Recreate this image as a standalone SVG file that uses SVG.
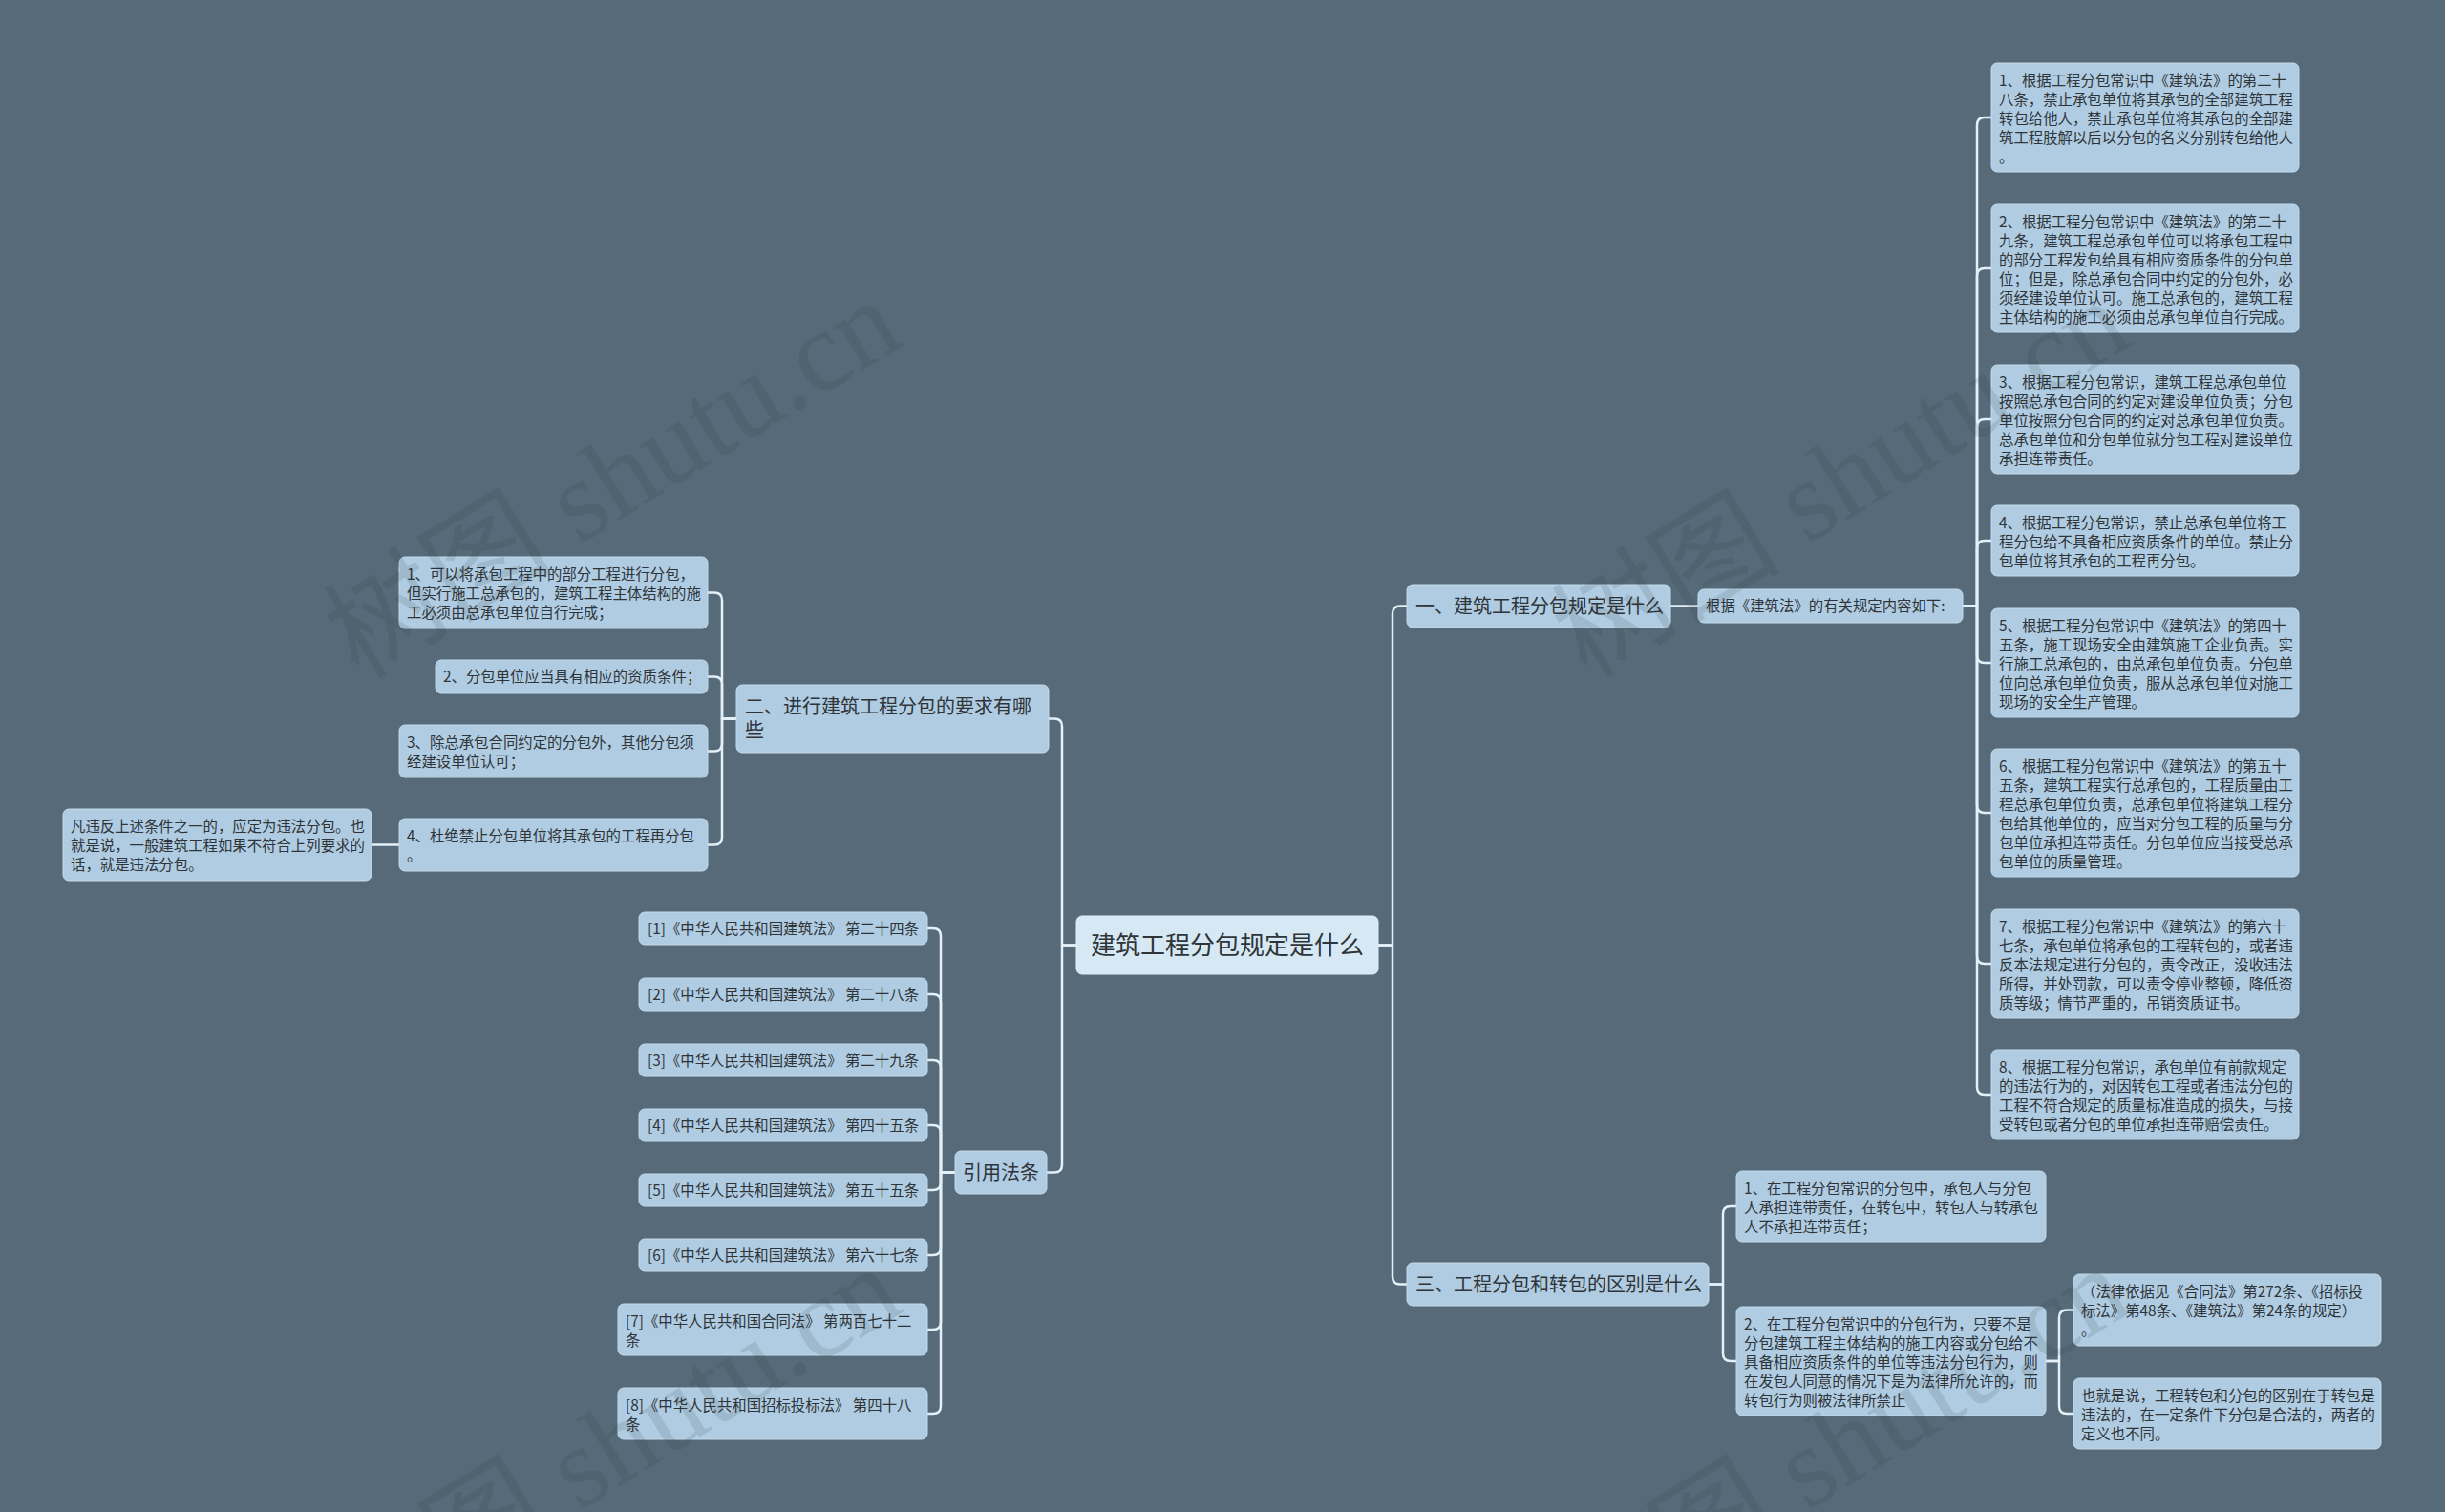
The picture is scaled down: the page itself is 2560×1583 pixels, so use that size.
<svg xmlns="http://www.w3.org/2000/svg" width="2560" height="1583" viewBox="0 0 2560 1583">
<defs>
<style>
.bg{fill:#566a79}
.n{fill:#afcce2;stroke:#c4dbeb;stroke-width:1}
.c{fill:#d5e8f4;stroke:#e2f0f8;stroke-width:1}
.t{font-family:"Noto Sans CJK SC","Noto Sans",sans-serif;fill:#2f3438}
.s15{font-size:15.4px}
.s20{font-size:20px}
.s26{font-size:26px}
.ln{fill:none;stroke:#e3f0f7;stroke-width:2.5;stroke-linecap:round;stroke-linejoin:round}
.wm{font-family:"Liberation Serif","Noto Sans CJK SC",serif;font-size:120px;fill:#2a3238;opacity:0.12}
</style>
</defs>
<rect class="bg" x="0" y="0" width="2560" height="1583"/>

<g id="connectors">
<path class="ln" d="M1443,989.5 H1458 V642.5 Q1458,634.5 1466,634.5 H1473"/>
<path class="ln" d="M1443,989.5 H1458 V1336.5 Q1458,1344.5 1466,1344.5 H1473"/>
<path class="ln" d="M1749,634.5 H1778"/>
<path class="ln" d="M2055,634.5 H2070 V131 Q2070,123 2078,123 H2085"/>
<path class="ln" d="M2055,634.5 H2070 V289 Q2070,281 2078,281 H2085"/>
<path class="ln" d="M2055,634.5 H2070 V447 Q2070,439 2078,439 H2085"/>
<path class="ln" d="M2055,634.5 H2070 V574 Q2070,566 2078,566 H2085"/>
<path class="ln" d="M2055,634.5 H2070 V686 Q2070,694 2078,694 H2085"/>
<path class="ln" d="M2055,634.5 H2070 V843 Q2070,851 2078,851 H2085"/>
<path class="ln" d="M2055,634.5 H2070 V1001 Q2070,1009 2078,1009 H2085"/>
<path class="ln" d="M2055,634.5 H2070 V1138 Q2070,1146 2078,1146 H2085"/>
<path class="ln" d="M1789,1344.5 H1804 V1271 Q1804,1263 1812,1263 H1818"/>
<path class="ln" d="M1789,1344.5 H1804 V1417 Q1804,1425 1812,1425 H1818"/>
<path class="ln" d="M2142,1425 H2156 V1379.5 Q2156,1371.5 2164,1371.5 H2171"/>
<path class="ln" d="M2142,1425 H2156 V1472 Q2156,1480 2164,1480 H2171"/>
<path class="ln" d="M1127,989.5 H1112 V760.5 Q1112,752.5 1104,752.5 H1098"/>
<path class="ln" d="M1127,989.5 H1112 V1219.5 Q1112,1227.5 1104,1227.5 H1096"/>
<path class="ln" d="M771,752.5 H756 V628.5 Q756,620.5 748,620.5 H741"/>
<path class="ln" d="M771,752.5 H756 V716.5 Q756,708.5 748,708.5 H741"/>
<path class="ln" d="M771,752.5 H756 V778.5 Q756,786.5 748,786.5 H741"/>
<path class="ln" d="M771,752.5 H756 V876.5 Q756,884.5 748,884.5 H741"/>
<path class="ln" d="M418,884.5 H389"/>
<path class="ln" d="M1000,1227.5 H985 V980 Q985,972 977,972 H971"/>
<path class="ln" d="M1000,1227.5 H985 V1049 Q985,1041 977,1041 H971"/>
<path class="ln" d="M1000,1227.5 H985 V1118 Q985,1110 977,1110 H971"/>
<path class="ln" d="M1000,1227.5 H985 V1186 Q985,1178 977,1178 H971"/>
<path class="ln" d="M1000,1227.5 H985 V1238 Q985,1246 977,1246 H971"/>
<path class="ln" d="M1000,1227.5 H985 V1306 Q985,1314 977,1314 H971"/>
<path class="ln" d="M1000,1227.5 H985 V1384 Q985,1392 977,1392 H971"/>
<path class="ln" d="M1000,1227.5 H985 V1472 Q985,1480 977,1480 H971"/>
</g>

<g id="center">
<rect class="c" x="1127" y="959" width="316" height="61" rx="6"/>
<text class="t s26" x="1285" y="999" text-anchor="middle">建筑工程分包规定是什么</text>
</g>

<g id="b1">
<rect class="n" x="1473" y="612" width="276" height="45" rx="6"/>
<text class="t s20" x="1482" y="642">一、建筑工程分包规定是什么</text>
</g>
<g id="b1-sub">
<rect class="n" x="1778" y="617" width="277" height="35" rx="6"/>
<text class="t s15" x="1786" y="640">根据《建筑法》的有关规定内容如下:</text>
</g>

<g id="r1">
<rect class="n" x="2085" y="66" width="322" height="114" rx="6"/>
<text class="t s15" x="2093" y="90"><tspan x="2093">1、根据工程分包常识中《建筑法》的第二十</tspan><tspan x="2093" dy="20">八条，禁止承包单位将其承包的全部建筑工程</tspan><tspan x="2093" dy="20">转包给他人，禁止承包单位将其承包的全部建</tspan><tspan x="2093" dy="20">筑工程肢解以后以分包的名义分别转包给他人</tspan><tspan x="2093" dy="20">。</tspan></text>
</g>
<g id="r2">
<rect class="n" x="2085" y="214" width="322" height="134" rx="6"/>
<text class="t s15" x="2093" y="238"><tspan x="2093">2、根据工程分包常识中《建筑法》的第二十</tspan><tspan x="2093" dy="20">九条，建筑工程总承包单位可以将承包工程中</tspan><tspan x="2093" dy="20">的部分工程发包给具有相应资质条件的分包单</tspan><tspan x="2093" dy="20">位；但是，除总承包合同中约定的分包外，必</tspan><tspan x="2093" dy="20">须经建设单位认可。施工总承包的，建筑工程</tspan><tspan x="2093" dy="20">主体结构的施工必须由总承包单位自行完成。</tspan></text>
</g>
<g id="r3">
<rect class="n" x="2085" y="382" width="322" height="114" rx="6"/>
<text class="t s15" x="2093" y="406"><tspan x="2093">3、根据工程分包常识，建筑工程总承包单位</tspan><tspan x="2093" dy="20">按照总承包合同的约定对建设单位负责；分包</tspan><tspan x="2093" dy="20">单位按照分包合同的约定对总承包单位负责。</tspan><tspan x="2093" dy="20">总承包单位和分包单位就分包工程对建设单位</tspan><tspan x="2093" dy="20">承担连带责任。</tspan></text>
</g>
<g id="r4">
<rect class="n" x="2085" y="529" width="322" height="74" rx="6"/>
<text class="t s15" x="2093" y="553"><tspan x="2093">4、根据工程分包常识，禁止总承包单位将工</tspan><tspan x="2093" dy="20">程分包给不具备相应资质条件的单位。禁止分</tspan><tspan x="2093" dy="20">包单位将其承包的工程再分包。</tspan></text>
</g>
<g id="r5">
<rect class="n" x="2085" y="637" width="322" height="114" rx="6"/>
<text class="t s15" x="2093" y="661"><tspan x="2093">5、根据工程分包常识中《建筑法》的第四十</tspan><tspan x="2093" dy="20">五条，施工现场安全由建筑施工企业负责。实</tspan><tspan x="2093" dy="20">行施工总承包的，由总承包单位负责。分包单</tspan><tspan x="2093" dy="20">位向总承包单位负责，服从总承包单位对施工</tspan><tspan x="2093" dy="20">现场的安全生产管理。</tspan></text>
</g>
<g id="r6">
<rect class="n" x="2085" y="784" width="322" height="134" rx="6"/>
<text class="t s15" x="2093" y="808"><tspan x="2093">6、根据工程分包常识中《建筑法》的第五十</tspan><tspan x="2093" dy="20">五条，建筑工程实行总承包的，工程质量由工</tspan><tspan x="2093" dy="20">程总承包单位负责，总承包单位将建筑工程分</tspan><tspan x="2093" dy="20">包给其他单位的，应当对分包工程的质量与分</tspan><tspan x="2093" dy="20">包单位承担连带责任。分包单位应当接受总承</tspan><tspan x="2093" dy="20">包单位的质量管理。</tspan></text>
</g>
<g id="r7">
<rect class="n" x="2085" y="952" width="322" height="114" rx="6"/>
<text class="t s15" x="2093" y="976"><tspan x="2093">7、根据工程分包常识中《建筑法》的第六十</tspan><tspan x="2093" dy="20">七条，承包单位将承包的工程转包的，或者违</tspan><tspan x="2093" dy="20">反本法规定进行分包的，责令改正，没收违法</tspan><tspan x="2093" dy="20">所得，并处罚款，可以责令停业整顿，降低资</tspan><tspan x="2093" dy="20">质等级；情节严重的，吊销资质证书。</tspan></text>
</g>
<g id="r8">
<rect class="n" x="2085" y="1099" width="322" height="94" rx="6"/>
<text class="t s15" x="2093" y="1123"><tspan x="2093">8、根据工程分包常识，承包单位有前款规定</tspan><tspan x="2093" dy="20">的违法行为的，对因转包工程或者违法分包的</tspan><tspan x="2093" dy="20">工程不符合规定的质量标准造成的损失，与接</tspan><tspan x="2093" dy="20">受转包或者分包的单位承担连带赔偿责任。</tspan></text>
</g>

<g id="b3">
<rect class="n" x="1473" y="1322" width="316" height="45" rx="6"/>
<text class="t s20" x="1482" y="1352">三、工程分包和转包的区别是什么</text>
</g>
<g id="b3-c1">
<rect class="n" x="1818" y="1226" width="324" height="74" rx="6"/>
<text class="t s15" x="1826" y="1250"><tspan x="1826">1、在工程分包常识的分包中，承包人与分包</tspan><tspan x="1826" dy="20">人承担连带责任，在转包中，转包人与转承包</tspan><tspan x="1826" dy="20">人不承担连带责任；</tspan></text>
</g>
<g id="b3-c2">
<rect class="n" x="1818" y="1368" width="324" height="114" rx="6"/>
<text class="t s15" x="1826" y="1392"><tspan x="1826">2、在工程分包常识中的分包行为，只要不是</tspan><tspan x="1826" dy="20">分包建筑工程主体结构的施工内容或分包给不</tspan><tspan x="1826" dy="20">具备相应资质条件的单位等违法分包行为，则</tspan><tspan x="1826" dy="20">在发包人同意的情况下是为法律所允许的，而</tspan><tspan x="1826" dy="20">转包行为则被法律所禁止</tspan></text>
</g>
<g id="b3-g1">
<rect class="n" x="2171" y="1334" width="322" height="75" rx="6"/>
<text class="t s15" x="2179" y="1358"><tspan x="2179">（法律依据见《合同法》第272条、《招标投</tspan><tspan x="2179" dy="20">标法》第48条、《建筑法》第24条的规定）</tspan><tspan x="2179" dy="20">。</tspan></text>
</g>
<g id="b3-g2">
<rect class="n" x="2171" y="1443" width="322" height="74" rx="6"/>
<text class="t s15" x="2179" y="1467"><tspan x="2179">也就是说，工程转包和分包的区别在于转包是</tspan><tspan x="2179" dy="20">违法的，在一定条件下分包是合法的，两者的</tspan><tspan x="2179" dy="20">定义也不同。</tspan></text>
</g>

<g id="b2">
<rect class="n" x="771" y="717" width="327" height="71" rx="6"/>
<text class="t s20" x="780" y="747"><tspan x="780">二、进行建筑工程分包的要求有哪</tspan><tspan x="780" dy="25">些</tspan></text>
</g>
<g id="l1">
<rect class="n" x="418" y="583" width="323" height="75" rx="6"/>
<text class="t s15" x="426" y="607"><tspan x="426">1、可以将承包工程中的部分工程进行分包，</tspan><tspan x="426" dy="20">但实行施工总承包的，建筑工程主体结构的施</tspan><tspan x="426" dy="20">工必须由总承包单位自行完成；</tspan></text>
</g>
<g id="l2">
<rect class="n" x="456" y="691" width="285" height="35" rx="6"/>
<text class="t s15" x="464" y="714">2、分包单位应当具有相应的资质条件；</text>
</g>
<g id="l3">
<rect class="n" x="418" y="759" width="323" height="55" rx="6"/>
<text class="t s15" x="426" y="783"><tspan x="426">3、除总承包合同约定的分包外，其他分包须</tspan><tspan x="426" dy="20">经建设单位认可；</tspan></text>
</g>
<g id="l4">
<rect class="n" x="418" y="857" width="323" height="55" rx="6"/>
<text class="t s15" x="426" y="881"><tspan x="426">4、杜绝禁止分包单位将其承包的工程再分包</tspan><tspan x="426" dy="20">。</tspan></text>
</g>
<g id="l4-c">
<rect class="n" x="66" y="847" width="323" height="75" rx="6"/>
<text class="t s15" x="74" y="871"><tspan x="74">凡违反上述条件之一的，应定为违法分包。也</tspan><tspan x="74" dy="20">就是说，一般建筑工程如果不符合上列要求的</tspan><tspan x="74" dy="20">话，就是违法分包。</tspan></text>
</g>

<g id="b4">
<rect class="n" x="1000" y="1205" width="96" height="45" rx="6"/>
<text class="t s20" x="1008" y="1235">引用法条</text>
</g>
<g id="ref1"><rect class="n" x="669" y="955" width="302" height="34" rx="6"/><text class="t s15" x="678" y="978">[1]《中华人民共和国建筑法》 第二十四条</text></g>
<g id="ref2"><rect class="n" x="669" y="1024" width="302" height="34" rx="6"/><text class="t s15" x="678" y="1047">[2]《中华人民共和国建筑法》 第二十八条</text></g>
<g id="ref3"><rect class="n" x="669" y="1093" width="302" height="34" rx="6"/><text class="t s15" x="678" y="1116">[3]《中华人民共和国建筑法》 第二十九条</text></g>
<g id="ref4"><rect class="n" x="669" y="1161" width="302" height="34" rx="6"/><text class="t s15" x="678" y="1184">[4]《中华人民共和国建筑法》 第四十五条</text></g>
<g id="ref5"><rect class="n" x="669" y="1229" width="302" height="34" rx="6"/><text class="t s15" x="678" y="1252">[5]《中华人民共和国建筑法》 第五十五条</text></g>
<g id="ref6"><rect class="n" x="669" y="1297" width="302" height="34" rx="6"/><text class="t s15" x="678" y="1320">[6]《中华人民共和国建筑法》 第六十七条</text></g>
<g id="ref7"><rect class="n" x="647" y="1365" width="324" height="54" rx="6"/><text class="t s15" x="655" y="1389"><tspan x="655">[7]《中华人民共和国合同法》 第两百七十二</tspan><tspan x="655" dy="20">条</tspan></text></g>
<g id="ref8"><rect class="n" x="647" y="1453" width="324" height="54" rx="6"/><text class="t s15" x="655" y="1477"><tspan x="655">[8]《中华人民共和国招标投标法》 第四十八</tspan><tspan x="655" dy="20">条</tspan></text></g>

<g id="watermarks">
<text class="wm" transform="translate(376,712) rotate(-31.6)">树图 shutu.cn</text>
<text class="wm" transform="translate(1662,712) rotate(-31.6)">树图 shutu.cn</text>
<text class="wm" transform="translate(376,1724) rotate(-31.6)">树图 shutu.cn</text>
<text class="wm" transform="translate(1662,1724) rotate(-31.6)">树图 shutu.cn</text>
</g>
</svg>
